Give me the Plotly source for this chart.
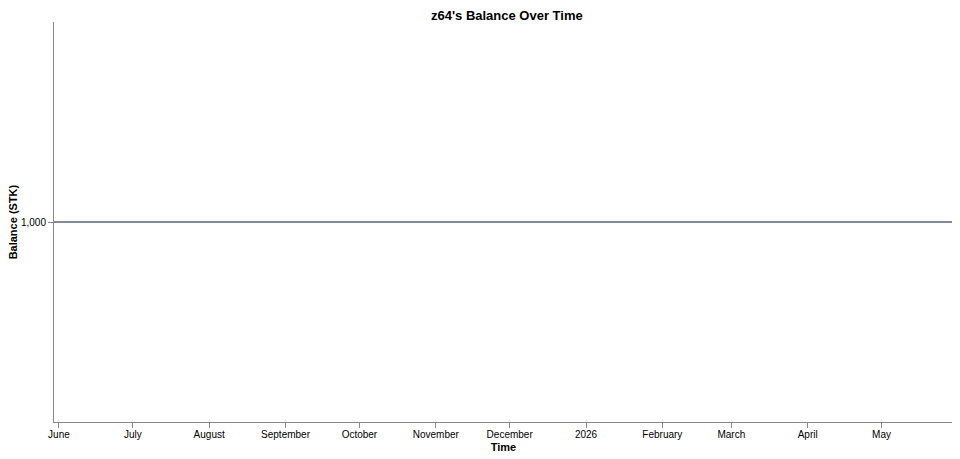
import plotly.graph_objects as go

# balance history (flat at 1000 STK)
dates = ["2025-05-30", "2026-05-30"]
balance = [1000, 1000]

# month ticks along the time axis
tick_dates = ["2025-06-01", "2025-07-01", "2025-08-01", "2025-09-01", "2025-10-01", "2025-11-01",
              "2025-12-01", "2026-01-01", "2026-02-01", "2026-03-01", "2026-04-01", "2026-05-01"]
tick_labels = ["June", "July", "August", "September", "October", "November",
               "December", "2026", "February", "March", "April", "May"]

fig = go.Figure()
fig.add_trace(go.Scatter(x=dates, y=balance, mode="lines",
                         line=dict(color="#7f8b9b", width=2), showlegend=False))

axis_style = dict(showgrid=False, zeroline=False, showline=True, linecolor="#888888", linewidth=1,
                  ticks="outside", ticklen=5, tickcolor="#888888", automargin=False,
                  tickfont=dict(size=10, color="#000000"))

# the page body adds an 8px margin, so the figure is sized a bit smaller
fig.update_layout(
    width=952, height=451,
    margin=dict(l=46, r=7, t=14, b=37),
    plot_bgcolor="white", paper_bgcolor="white",
    font=dict(family="Liberation Sans, Arial, sans-serif"),
    title=dict(text="<b>z64's Balance Over Time</b>", x=0.524, xanchor="center", y=0.993, yanchor="top",
               pad=dict(t=0, b=0), font=dict(size=13, color="#000000")),
    xaxis=dict(type="date", range=["2025-05-30", "2026-05-30"],
               tickvals=tick_dates, ticktext=tick_labels, ticklabelstandoff=-2,
               title=dict(text="<b>Time</b>", font=dict(size=11, color="#000000"), standoff=4),
               **axis_style),
    yaxis=dict(range=[999, 1001], tickvals=[1000], ticktext=["1,000"], **axis_style),
)

# y axis title placed by hand so it clears the tick label
fig.add_annotation(text="<b>Balance (STK)</b>", xref="paper", yref="paper", x=-0.0452, y=0.5,
                   xanchor="center", yanchor="middle", textangle=-90, showarrow=False, borderpad=0,
                   font=dict(size=11, color="#000000"))

fig.write_html("out.html")
